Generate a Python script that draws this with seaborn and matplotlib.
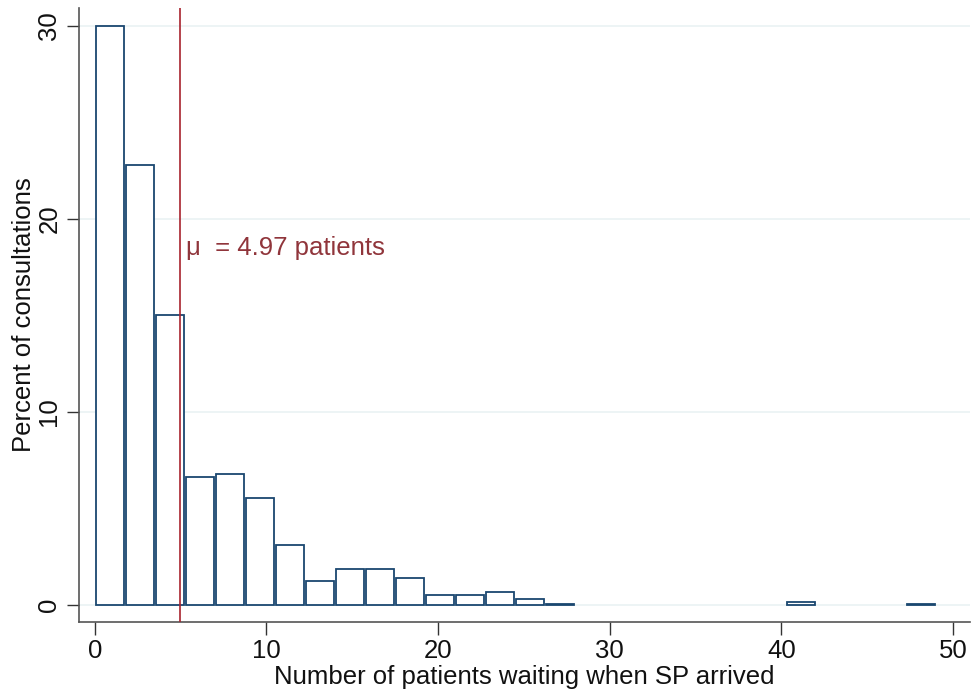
#!/usr/bin/env python
# -*- coding: utf-8 -*-
import seaborn as sns
import matplotlib.pyplot as plt
import numpy as np
import pandas as pd

# histogram bins: start at 0, width 1.75 (28 bins up to 49)
bin_width = 1.75
n_bins = 28
percents = [30.0, 22.8, 15.0, 6.65, 6.8, 5.55, 3.1, 1.26, 1.88, 1.88,
            1.4, 0.55, 0.55, 0.66, 0.3, 0.08, 0, 0, 0, 0,
            0, 0, 0, 0.19, 0, 0, 0, 0.08]
mean_val = 4.97
x_ticks = [0, 10, 20, 30, 40, 50]
y_ticks = [0, 10, 20, 30]

if __name__ == "__main__":
    sns.set_style("white")
    plt.rcParams['font.family'] = ['Liberation Sans', 'DejaVu Sans']
    fs = 18.5

    edges = np.arange(n_bins + 1) * bin_width
    df = pd.DataFrame({'waiting': edges[:-1] + bin_width / 2,
                       'pct': percents})

    fig = plt.figure(figsize=(9.73, 6.94), dpi=100)
    ax = fig.add_axes([0.081, 0.104, 0.916, 0.884])

    for t in y_ticks:
        ax.axhline(t, color='#eaf2f3', lw=1.2, zorder=0)

    sns.histplot(data=df, x='waiting', weights='pct', bins=list(edges),
                 shrink=0.93, color='white', edgecolor='#1a476f',
                 linewidth=1.3, alpha=1, ax=ax, zorder=2)
    # empty bins are not drawn in the original
    for p in ax.patches:
        if p.get_height() == 0:
            p.set_visible(False)

    ax.axvline(mean_val, color='#a8222e', lw=1.2, zorder=3)
    ax.text(mean_val + 0.32, 18.5, u"\u03bc  = 4.97 patients", color='#90353b',
            fontsize=fs, va='center', ha='left')

    ax.set_xlim(-0.93, 51)
    ax.set_ylim(-0.86, 30.9)
    ax.set_xticks(x_ticks)
    ax.set_yticks(y_ticks)
    ax.tick_params(axis='both', direction='out', length=9, width=1,
                   color='#333333', labelsize=fs, labelcolor='#111111')
    ax.tick_params(axis='x', bottom=True)
    ax.tick_params(axis='y', left=True)
    plt.setp(ax.get_yticklabels(), rotation=90, va='center')

    ax.set_xlabel("Number of patients waiting when SP arrived", fontsize=fs,
                  color='#111111', labelpad=1)
    ax.set_ylabel("Percent of consultations", fontsize=fs, color='#111111',
                  labelpad=1)

    sns.despine(ax=ax, top=True, right=True)
    for s in ['left', 'bottom']:
        ax.spines[s].set_color('#555555')
        ax.spines[s].set_linewidth(1.2)

    fig.savefig('out.png', dpi=100)
